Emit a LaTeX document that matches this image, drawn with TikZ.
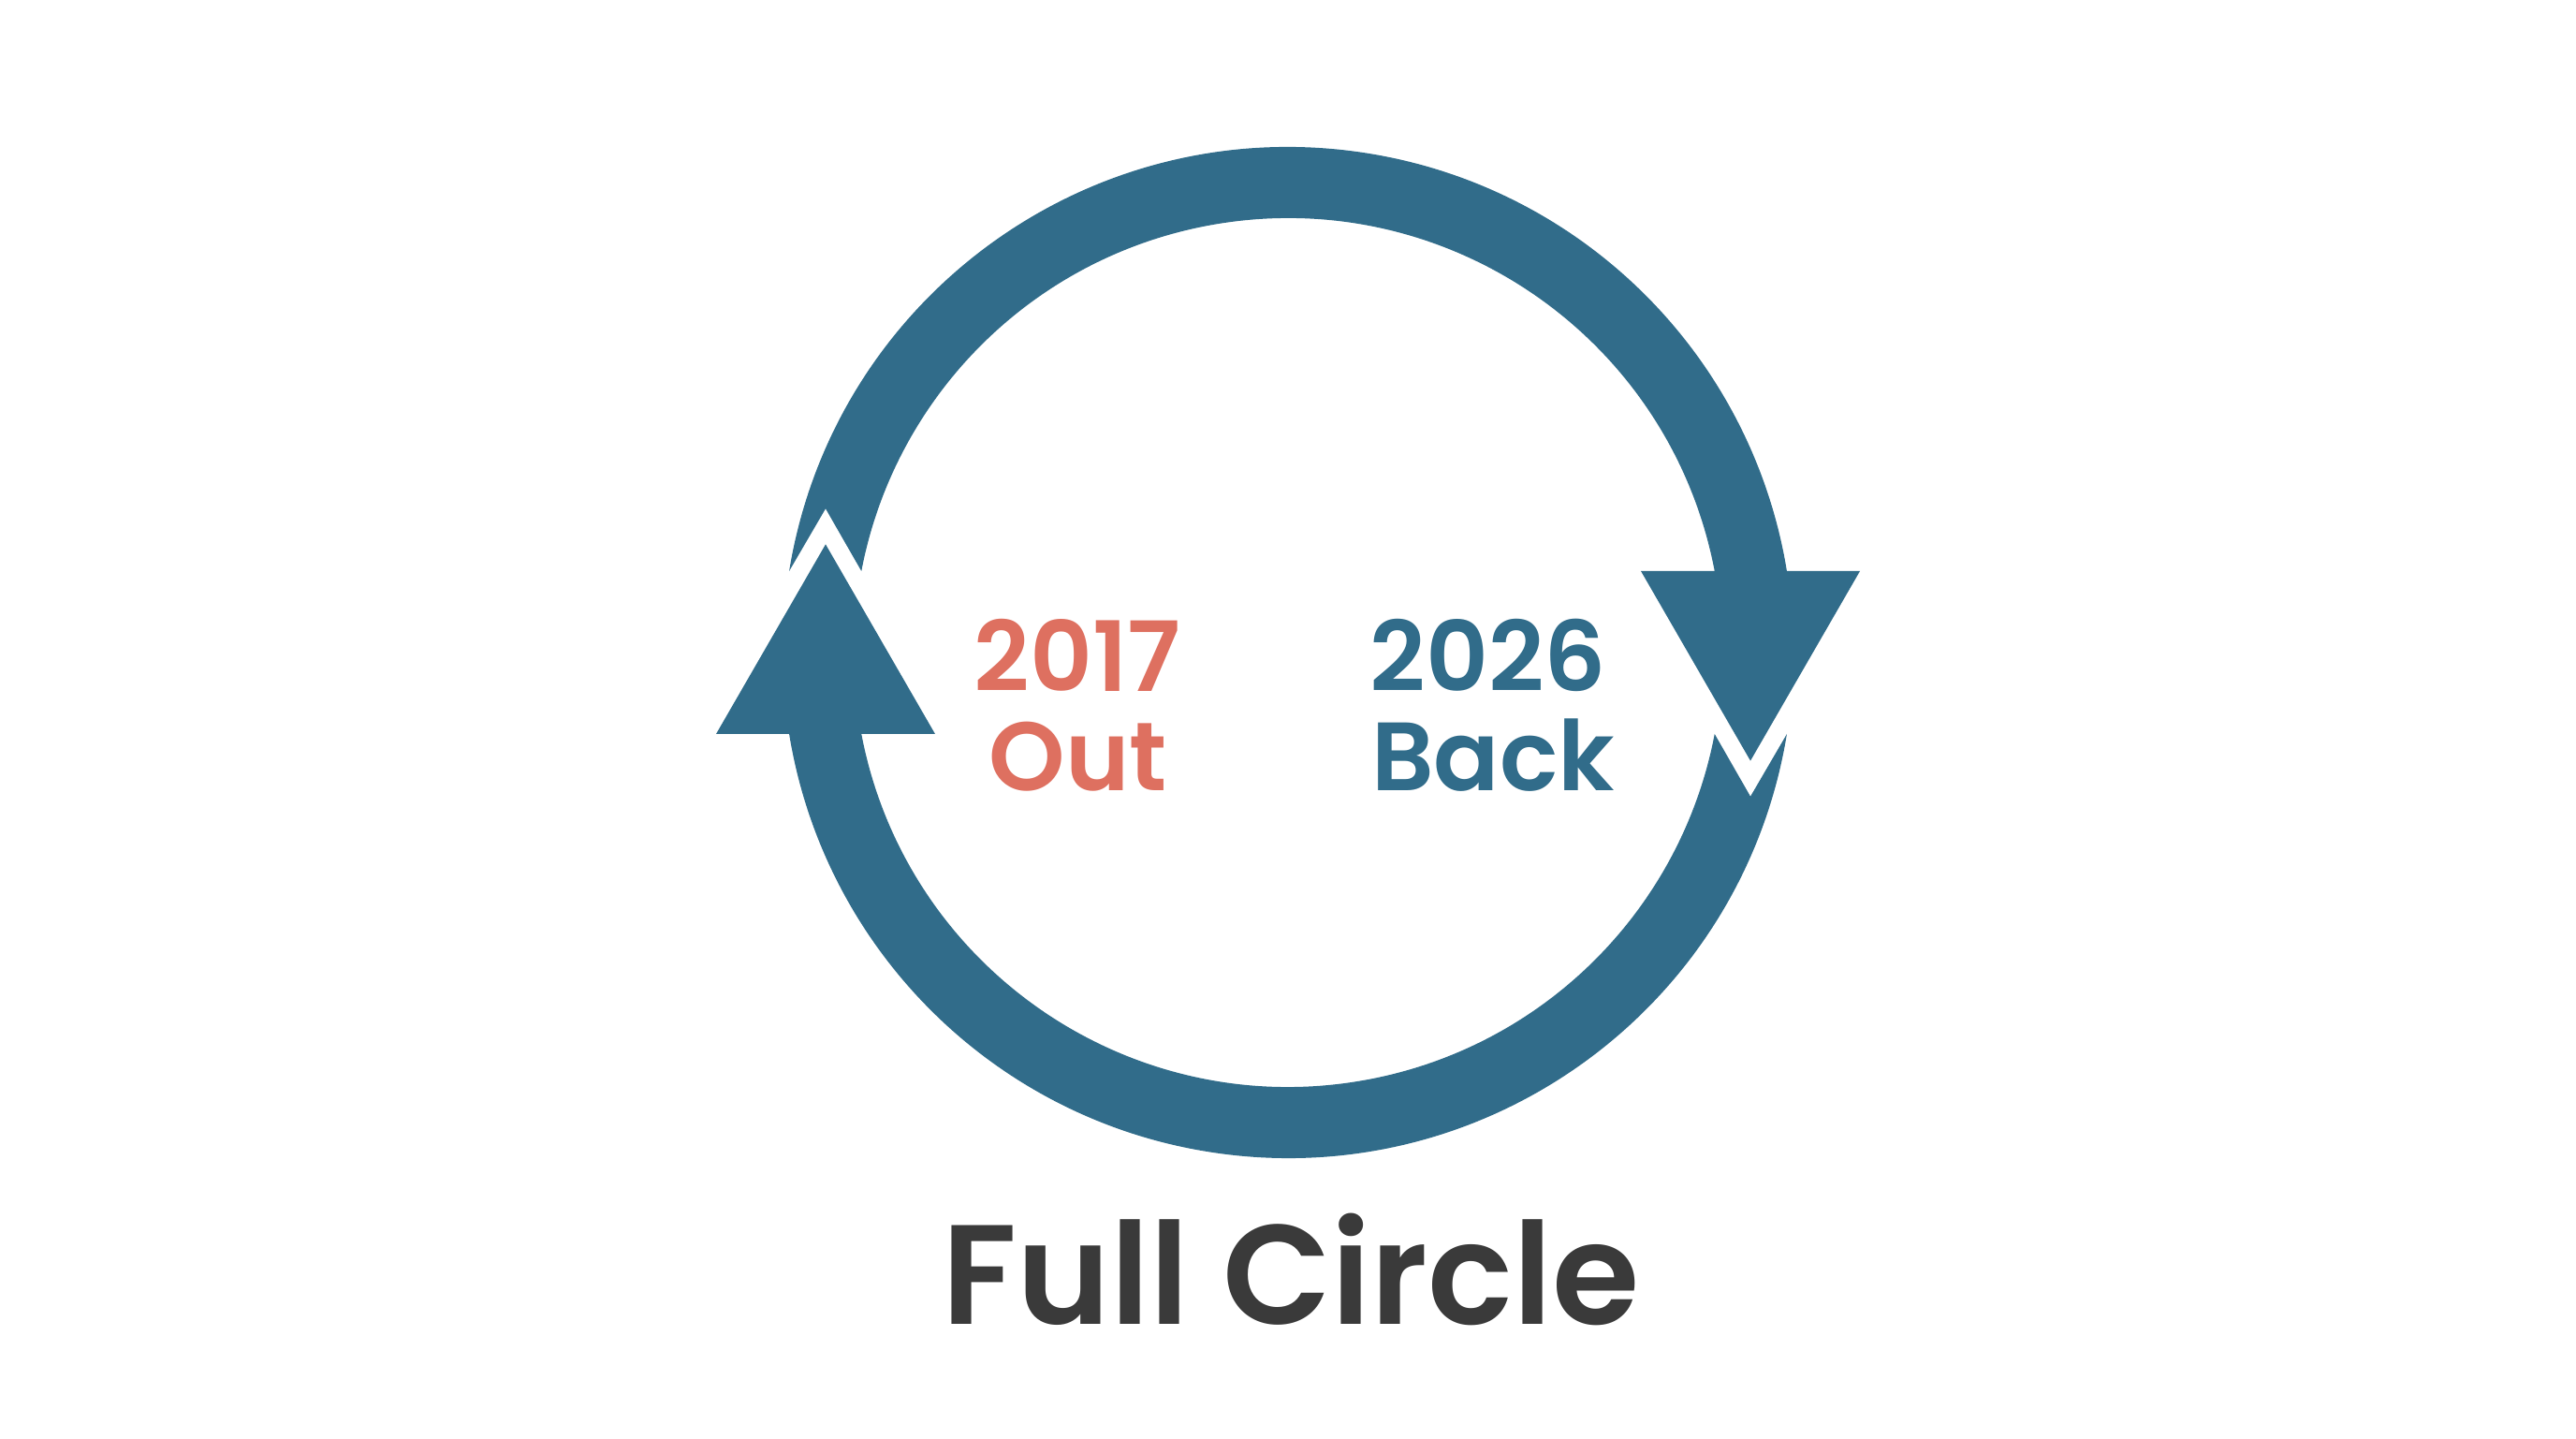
\documentclass[tikz,border=0pt]{standalone}
\usepackage{fontspec}
\setmainfont{Poppins}[BoldFont={Poppins SemiBold}]
\usepackage{tikz}
\usetikzlibrary{positioning, calc}

\definecolor{ringblue}{RGB}{49,108,138}
\definecolor{outred}{RGB}{222,112,96}
\definecolor{titlegray}{RGB}{58,58,58}

% ring geometry (cm, relative to the centre)
\def\Rout{5.40}
\def\Rin{4.64}
\def\cuty{0.87}
\def\xmid{4.94}
\pgfmathsetmacro\aOut{asin(\cuty/\Rout)}
\pgfmathsetmacro\aIn{asin(\cuty/\Rin)}

\begin{document}
\begin{tikzpicture}[
    yeartext/.style={inner sep=0pt, anchor=base, font=\fontsize{29.5}{35}\selectfont\bfseries},
    pics/halfarrow/.style={code={
        \fill[ringblue] (180-\aOut:\Rout) arc[start angle=180-\aOut, end angle=\aOut, radius=\Rout]
            -- ({\xmid+1.17},\cuty) -- (\xmid,{\cuty-2.026}) -- ({\xmid-1.17},\cuty)
            -- (\aIn:\Rin) arc[start angle=\aIn, end angle=180-\aIn, radius=\Rin]
            -- (-\xmid,{\cuty+0.667}) -- cycle;
    }}
]
    \useasboundingbox (0,0) rectangle (27.52,15.36);

    % ================= Ring =================
    \begin{scope}[shift={(13.76,8.39)}]
        % Upper half, pointing down on the right
        \pic {halfarrow};
        % Lower half, pointing up on the left
        \pic[rotate=180] {halfarrow};
    \end{scope}

    % ================= Labels =================
    \node[yeartext, text=outred] (year2017) at (11.51,7.97) {2017};
    \node[yeartext, text=outred] (out) at (11.52,6.91) {Out};
    \node[yeartext, text=ringblue] (year2026) at (15.90,7.97) {2026};
    \node[yeartext, text=ringblue] (back) at (15.95,6.91) {Back};

    % ================= Title =================
    \node[inner sep=0pt, anchor=base, text=titlegray, font=\fontsize{43}{50}\selectfont\bfseries] (title) at (13.79,1.21) {Full Circle};

\end{tikzpicture}
\end{document}
